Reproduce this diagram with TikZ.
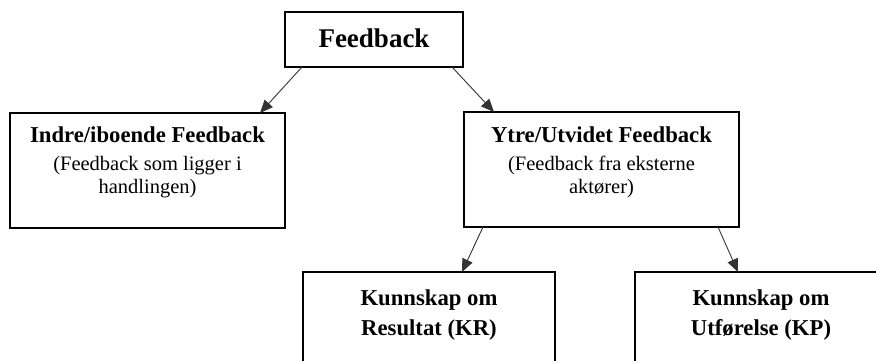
\documentclass[tikz,border=0pt]{standalone}
\usepackage{fontspec}
\setmainfont{Liberation Serif}
\usetikzlibrary{arrows.meta,calc}

\tikzset{
  box/.style={draw=black, line width=2.4pt, rectangle, inner sep=0pt, outer sep=0pt},
  title/.style={font=\fontsize{27}{30}\selectfont\bfseries, inner sep=0pt, anchor=base},
  head/.style={font=\fontsize{22.7}{27}\selectfont\bfseries, inner sep=0pt, anchor=base},
  sub/.style={font=\fontsize{20.5}{23}\selectfont, inner sep=0pt, anchor=base},
  link/.style={draw=black!80, line width=0.9pt, -{Triangle[length=13pt,width=11pt]}},
}

\begin{document}
\begin{tikzpicture}[x=1pt, y=-1pt]
  \useasboundingbox (0,0) rectangle (876,361);
  \clip (0,0) rectangle (876,361);

  % boxes
  \node[box, minimum width=178pt, minimum height=55pt]  (fb)    at (374,39.5) {};
  \node[box, minimum width=275pt, minimum height=115pt] (indre) at (147.5,170.5) {};
  \node[box, minimum width=275pt, minimum height=115pt] (ytre)  at (601.5,169.5) {};
  \node[box, minimum width=252pt, minimum height=150pt] (kr)    at (429,347) {};
  \node[box, minimum width=252pt, minimum height=150pt] (kp)    at (761,347) {};

  % texts
  \node[title] (tfb) at ($(fb.north)+(0,36)$) {Feedback};

  \node[head] (ti1) at ($(indre.north)+(0,29)$) {Indre/iboende Feedback};
  \node[sub]  (ti2) at ($(indre.north)+(0,57)$) {(Feedback som ligger i};
  \node[sub]  (ti3) at ($(indre.north)+(0,80)$) {handlingen)};

  \node[head] (ty1) at ($(ytre.north)+(0,30)$) {Ytre/Utvidet Feedback};
  \node[sub]  (ty2) at ($(ytre.north)+(0,58)$) {(Feedback fra eksterne};
  \node[sub]  (ty3) at ($(ytre.north)+(0,81)$) {aktører)};

  \node[head] (tr1) at ($(kr.north)+(0,33)$) {Kunnskap om};
  \node[head] (tr2) at ($(kr.north)+(0,63)$) {Resultat (KR)};

  \node[head] (tp1) at ($(kp.north)+(0,33)$) {Kunnskap om};
  \node[head] (tp2) at ($(kp.north)+(0,63)$) {Utførelse (KP)};

  % connectors
  \draw[link] ([xshift=17pt]fb.south west) -- ([xshift=250pt]indre.north west);
  \draw[link] ([xshift=-11pt]fb.south east) -- ([xshift=30pt]ytre.north west);
  \draw[link] ([xshift=19pt]ytre.south west) -- ([xshift=159pt]kr.north west);
  \draw[link] ([xshift=-21pt]ytre.south east) -- ([xshift=103pt]kp.north west);
\end{tikzpicture}
\end{document}
